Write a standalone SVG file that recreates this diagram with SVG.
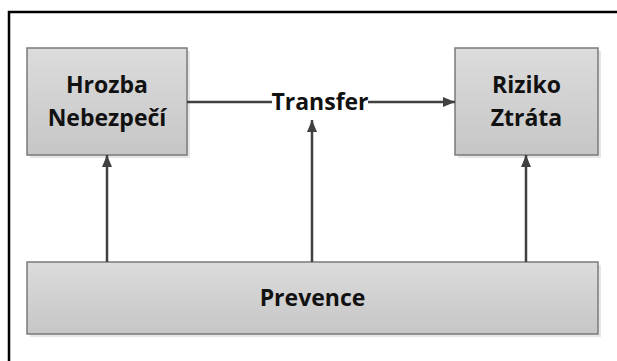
<svg xmlns="http://www.w3.org/2000/svg" width="617" height="361" viewBox="0 0 617 361">
<style>
.box{fill:url(#g);stroke:#7a7a7a;stroke-width:1.5}
.sh{fill:#e6e6e6}
.t{font-family:"Open Sans","Liberation Sans",Arial,sans-serif;font-weight:bold;font-size:23px;fill:#111;text-anchor:middle}
.c{stroke:#404040;stroke-width:2.5;fill:none}
</style>
<defs>
<linearGradient id="g" x1="0" y1="0" x2="0" y2="1">
<stop offset="0" stop-color="#dcdcdc"/>
<stop offset="1" stop-color="#c6c6c6"/>
</linearGradient>
<marker id="a" viewBox="0 0 12 10" refX="12" refY="5" markerWidth="12" markerHeight="10" markerUnits="userSpaceOnUse" orient="auto">
<path d="M0,0 L12,5 L0,10 Z" fill="#404040"/>
</marker>
</defs>
<rect width="617" height="361" fill="#fff"/>
<path d="M9,361 V12 H617" stroke="#000" stroke-width="2.5" fill="none"/>
<g id="hrozba">
<rect class="sh" x="30" y="51" width="160" height="107"/>
<rect class="box" x="27" y="48" width="160" height="107"/>
<text class="t" x="107" y="93">Hrozba</text>
<text class="t" x="107" y="126">Nebezpečí</text>
</g>
<g id="riziko">
<rect class="sh" x="458" y="51" width="143" height="107"/>
<rect class="box" x="455" y="48" width="143" height="107"/>
<text class="t" x="526.5" y="93">Riziko</text>
<text class="t" x="526.5" y="126">Ztráta</text>
</g>
<g id="prevence">
<rect class="sh" x="30" y="265" width="571" height="72"/>
<rect class="box" x="27" y="262" width="571" height="72"/>
<text class="t" x="312.5" y="306">Prevence</text>
</g>
<g id="connectors">
<line class="c" x1="187" y1="102" x2="272" y2="102"/>
<text class="t" x="320" y="110">Transfer</text>
<line class="c" x1="368" y1="102" x2="455" y2="102" marker-end="url(#a)"/>
<line class="c" x1="107" y1="262" x2="107" y2="155" marker-end="url(#a)"/>
<line class="c" x1="312" y1="262" x2="312" y2="120" marker-end="url(#a)"/>
<line class="c" x1="526" y1="262" x2="526" y2="155" marker-end="url(#a)"/>
</g>
</svg>
